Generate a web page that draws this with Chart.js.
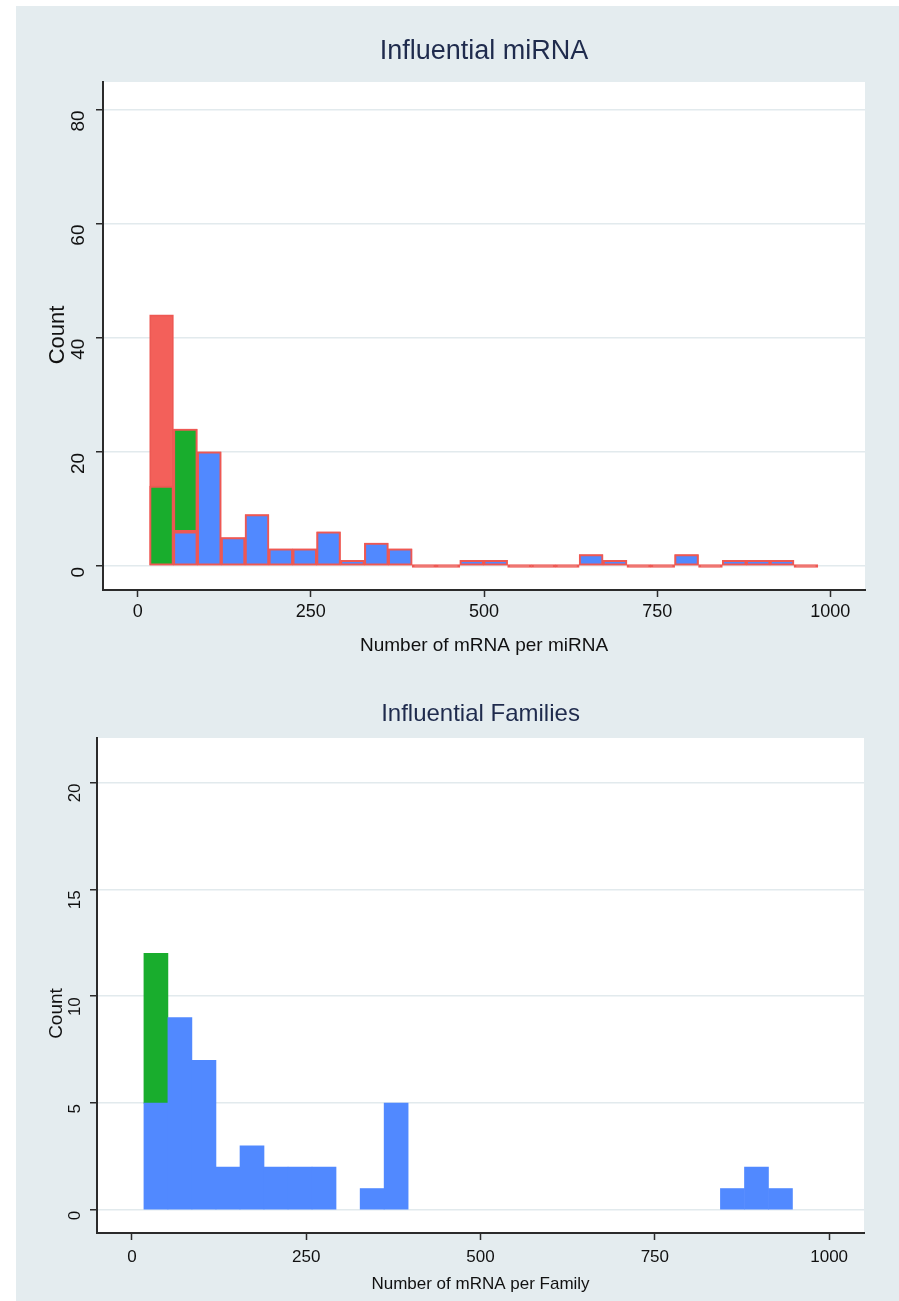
<!DOCTYPE html>
<html><head><meta charset="utf-8">
<script src="https://cdn.jsdelivr.net/npm/chart.js@4/dist/chart.umd.min.js"></script>
<style>
html,body{margin:0;padding:0;background:#fff;width:899px;height:1301px;overflow:hidden}
#bg{position:absolute;left:16px;top:6px;width:883px;height:1295px;background:#e4ecef}
#c1{position:absolute;left:0;top:0}
#c2{position:absolute;left:0;top:660px}
</style></head>
<body>
<div id="bg">
<canvas id="c1" width="883" height="660"></canvas>
<canvas id="c2" width="883" height="635"></canvas>
</div>
<script>
// ---- data ----
const binCenters = [34.5,68.9,103.4,137.8,172.3,206.7,241.2,275.6,310.1,344.6,379.0,413.5,447.9,482.4,
  516.8,551.3,585.7,620.2,654.6,689.1,723.5,758.0,792.4,826.9,861.3,895.8,930.2,964.7];
// Influential miRNA
const mirnaTotal = [44,24,20,5,9,3,3,6,1,4,3,0,0,1,1,0,0,0,2,1,0,0,2,0,1,1,1,0];
const mirnaBlue  = [0,6,20,5,9,3,3,6,1,4,3,0,0,1,1,0,0,0,2,1,0,0,2,0,1,1,1,0];
const mirnaGreen = [14,18,0,0,0,0,0,0,0,0,0,0,0,0,0,0,0,0,0,0,0,0,0,0,0,0,0,0];
// Influential Families
const famBlue  = [5,9,7,2,3,2,2,2,0,1,5,0,0,0,0,0,0,0,0,0,0,0,0,0,1,2,1,0];
const famGreen = [7,0,0,0,0,0,0,0,0,0,0,0,0,0,0,0,0,0,0,0,0,0,0,0,0,0,0,0];
const xTicks = [0,250,500,750,1000];
const yTicks1 = [0,20,40,60,80];
const yTicks2 = [0,5,10,15,20];

const RED='#f3605a', RED_EDGE='#ee5853', GREEN='#19ad2d', BLUE='#5189ff';
const GRID='#e2eaed', AXIS='#2b2b2b', TITLE='#1f2b4d';
Chart.defaults.font.family = '"Liberation Sans", Arial, sans-serif';
Chart.defaults.color = '#111';

const pts = arr => arr.map((v,i)=>({x:binCenters[i], y:v}));
const ptsNZ = arr => arr.map((v,i)=>({x:binCenters[i], y:(v===0?null:v)}));

const plotBg = {
  id:'plotBg',
  beforeDraw(chart){
    const {ctx, chartArea:a} = chart;
    ctx.save(); ctx.fillStyle='#fff';
    ctx.fillRect(a.left, a.top, a.right-a.left, a.bottom-a.top);
    ctx.restore();
  }
};
const yLabels = {
  id:'yLabels',
  afterDraw(chart, args, o){
    const {ctx, chartArea:a, scales:{y}} = chart;
    ctx.save();
    ctx.fillStyle='#111';
    ctx.font = o.tickSize+'px "Liberation Sans", Arial, sans-serif';
    ctx.textBaseline='middle'; ctx.textAlign='right';
    y.ticks.forEach(t=>{
      const py = y.getPixelForValue(t.value);
      ctx.save(); ctx.translate(a.left - o.tickOffset, py + 1);
      ctx.rotate(-Math.PI/2); ctx.fillText(String(t.value),0,0); ctx.restore();
    });
    ctx.font = o.titleSize+'px "Liberation Sans", Arial, sans-serif';
    ctx.textAlign='center';
    ctx.translate(a.left - o.titleOffset, (a.top+a.bottom)/2 + o.titleShift);
    ctx.rotate(-Math.PI/2); ctx.fillText(o.title,0,0);
    ctx.restore();
  }
};

function makeChart(id, datasets, cfg){
  return new Chart(document.getElementById(id), {
    type:'bar',
    data:{datasets},
    options:{
      responsive:false, animation:false,
      layout:{padding:cfg.pad},
      plugins:{
        legend:{display:false}, tooltip:{enabled:false},
        title:{display:true, text:cfg.title, fullSize:false, color:TITLE,
          font:{size:cfg.titleSize, weight:'normal'}, padding:cfg.titlePad},
        yLabels:cfg.yl
      },
      datasets:{bar:{grouped:false, barPercentage:1, categoryPercentage:1}},
      scales:{
        x:{type:'linear', min:-50, max:1050, stacked:true, offset:false,
          afterBuildTicks: s => { s.ticks = xTicks.map(v=>({value:v})); },
          grid:{offset:false, drawOnChartArea:false, drawTicks:true, tickLength:7, tickColor:AXIS, tickWidth:1.5},
          border:{display:true, color:AXIS, width:2},
          ticks:{font:{size:cfg.tickSize}, padding:cfg.tickPad, color:'#111', maxRotation:0, minRotation:0,
            autoSkip:false, callback: v => String(v)},
          title:{display:true, text:cfg.xTitle, color:'#111', font:{size:cfg.xTitleSize},
            padding:{top:cfg.xTitlePadTop, bottom:2}}
        },
        y:{type:'linear', min:cfg.ymin, max:cfg.ymax, stacked:true,
          afterBuildTicks: s => { s.ticks = cfg.yTicks.map(v=>({value:v})); },
          grid:{color:GRID, lineWidth:1.5, drawTicks:true, tickLength:7, tickColor:AXIS, tickWidth:1.5},
          border:{display:true, color:AXIS, width:2},
          ticks:{display:false}
        }
      }
    },
    plugins:[plotBg, yLabels]
  });
}

makeChart('c1', [
  {data:ptsNZ(mirnaBlue), backgroundColor:BLUE, borderColor:RED_EDGE, borderWidth:2, borderSkipped:false, stack:'parts'},
  {data:ptsNZ(mirnaGreen), backgroundColor:GREEN, borderColor:RED_EDGE, borderWidth:2, borderSkipped:false, stack:'parts'},
  {data:pts(mirnaTotal), backgroundColor:RED, borderColor:RED_EDGE, borderWidth:2, borderSkipped:false, minBarLength:3, stack:'total'}
], {
  title:'Influential miRNA', titleSize:27, titlePad:{top:29.8, bottom:13.8},
  pad:{left:80, right:34, top:0, bottom:6.6},
  tickSize:18, tickPad:4.2, xTitle:'Number of mRNA per miRNA', xTitleSize:19, xTitlePadTop:7.6,
  ymin:-4.2, ymax:84.8, yTicks:yTicks1,
  yl:{tickSize:19, tickOffset:24, title:'Count', titleSize:22, titleOffset:45.5, titleShift:-1}
});

makeChart('c2', [
  {data:ptsNZ(famBlue), backgroundColor:BLUE, borderWidth:0, stack:'parts'},
  {data:ptsNZ(famGreen), backgroundColor:GREEN, borderWidth:0, stack:'parts'}
], {
  title:'Influential Families', titleSize:24, titlePad:{top:33.6, bottom:9.6},
  pad:{left:74, right:35, top:0, bottom:4.6},
  tickSize:17, tickPad:6.8, xTitle:'Number of mRNA per Family', xTitleSize:17, xTitlePadTop:0,
  ymin:-1.08, ymax:22.08, yTicks:yTicks2,
  yl:{tickSize:17, tickOffset:22, title:'Count', titleSize:19, titleOffset:40, titleShift:28}
});
</script>
</body></html>
